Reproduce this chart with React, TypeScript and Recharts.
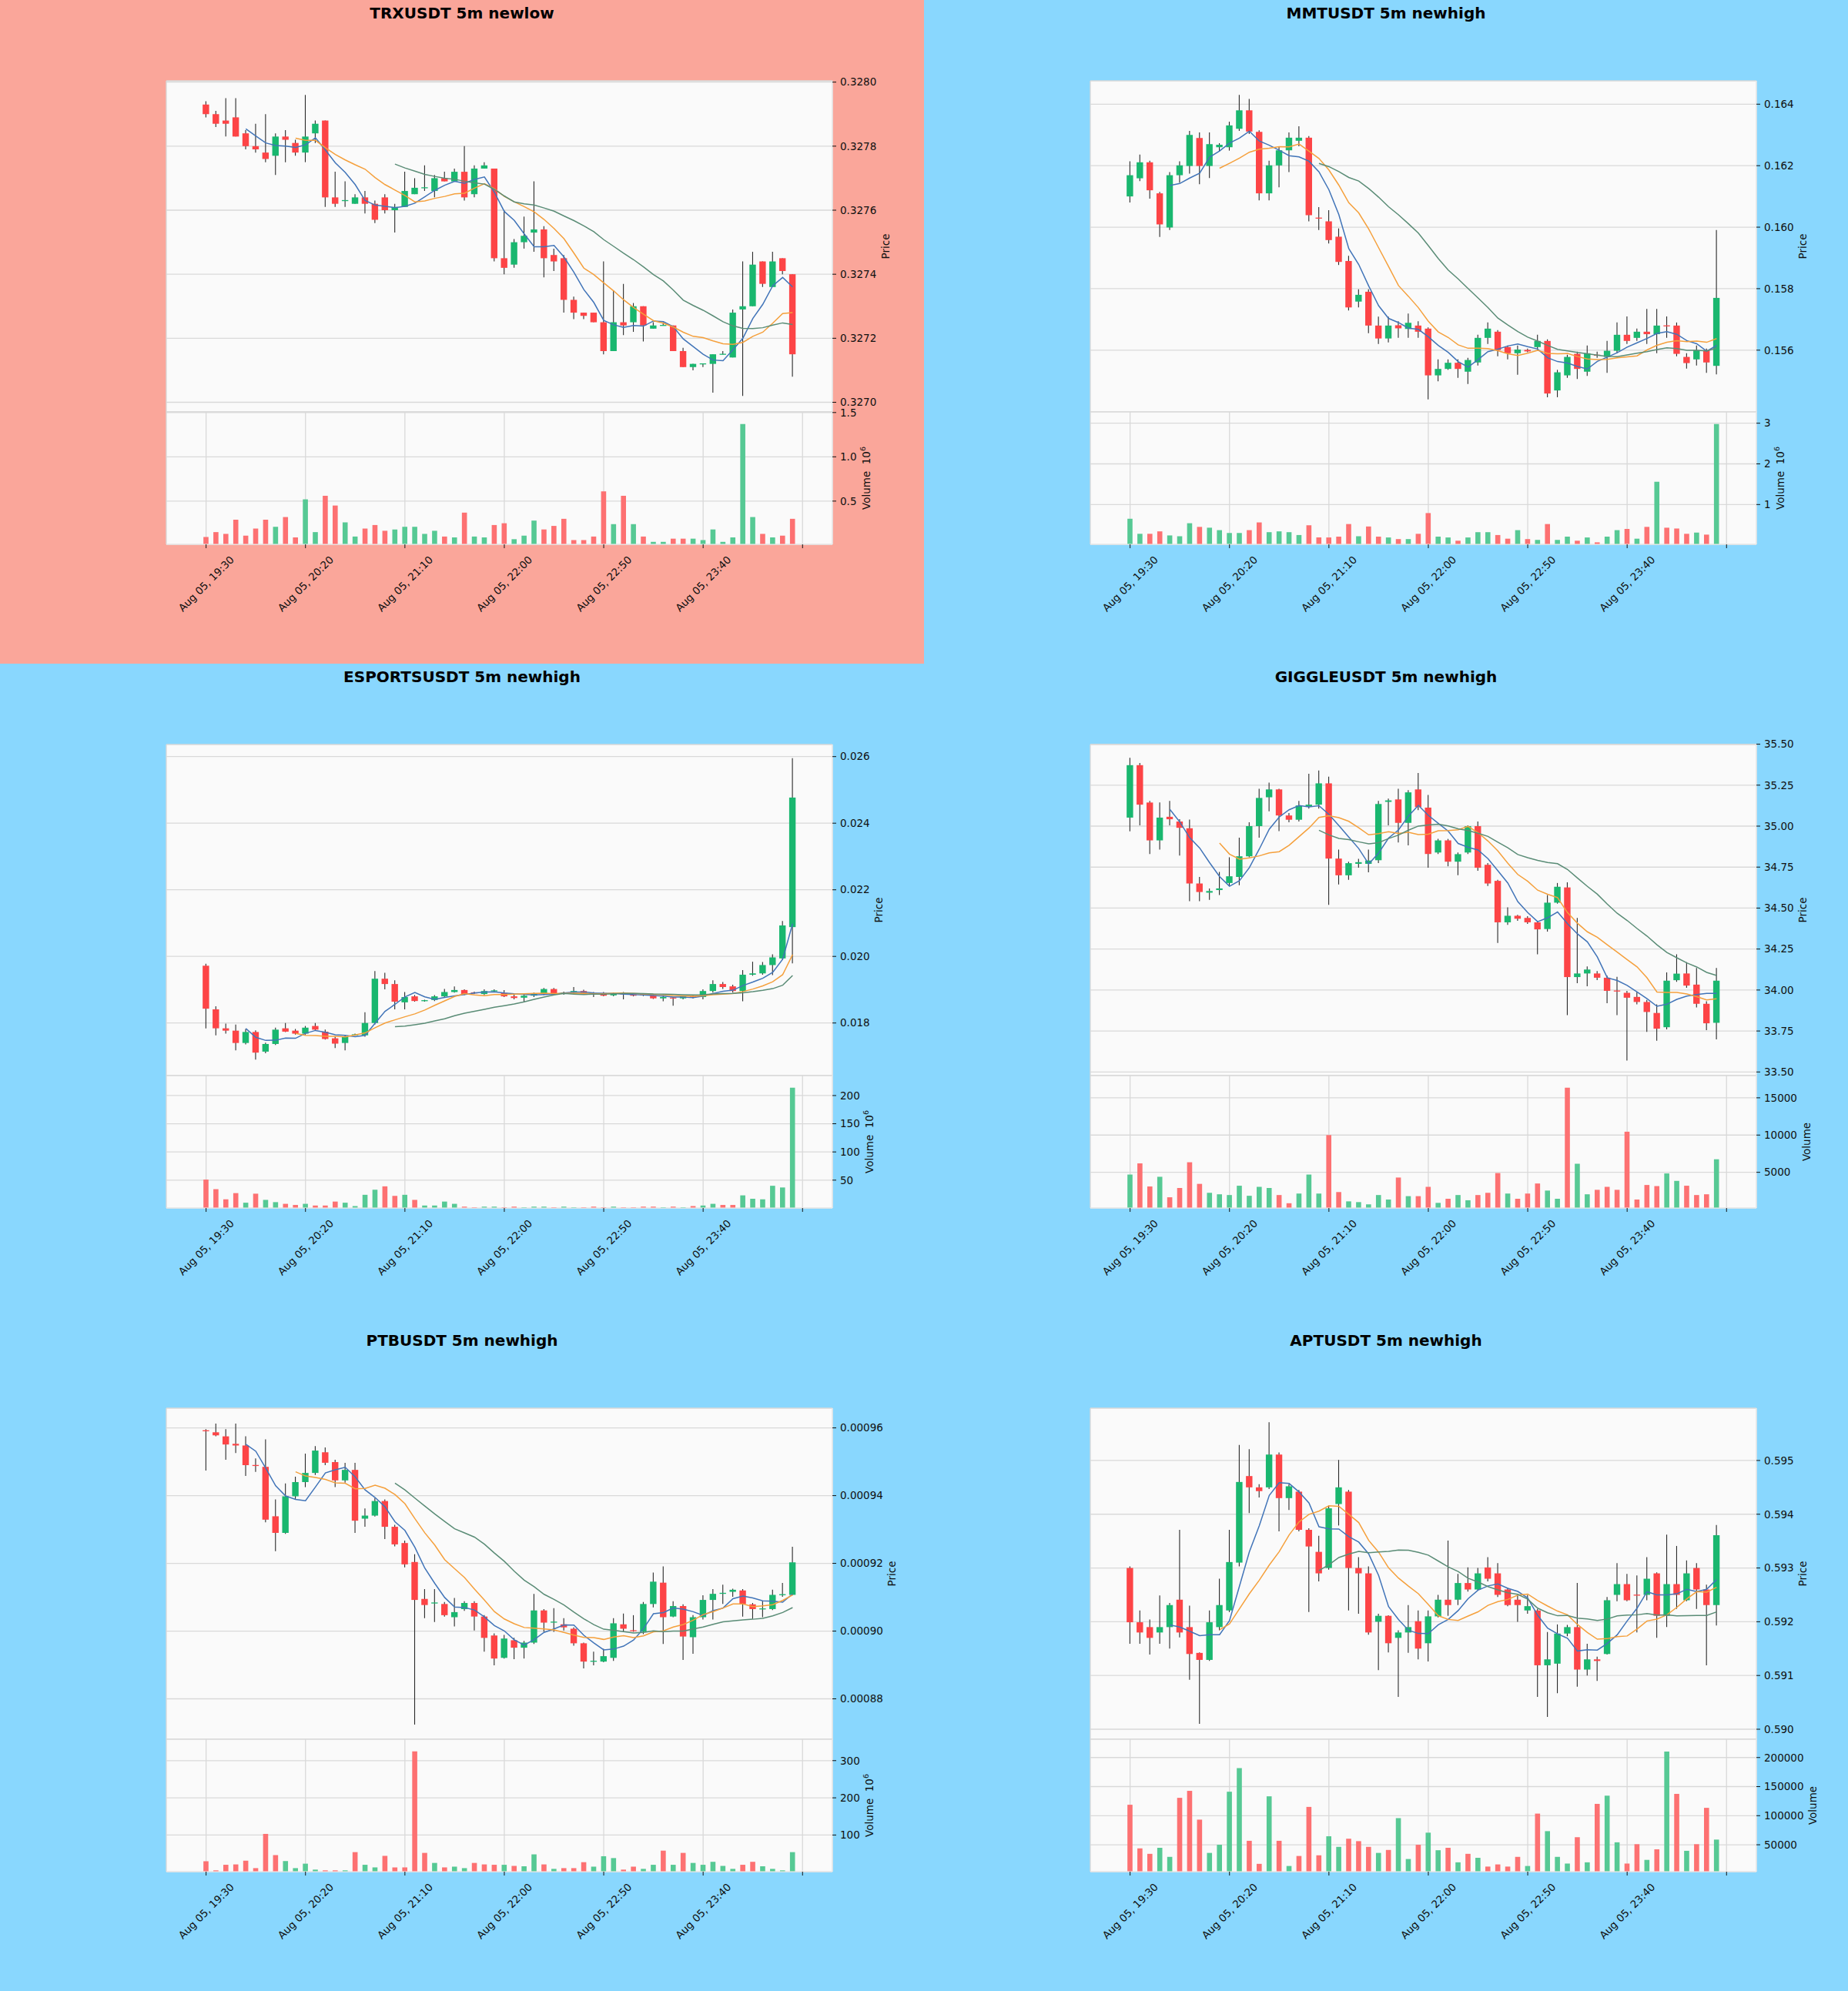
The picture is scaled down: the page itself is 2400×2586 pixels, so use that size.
import React from "react";
import { ComposedChart, Bar, Line, XAxis, YAxis, CartesianGrid, Cell } from "recharts";

const TICK_IDX = [0, 10, 20, 30, 40, 50, 60];
const TICK_LABELS = ["Aug 05, 19:30", "Aug 05, 20:20", "Aug 05, 21:10", "Aug 05, 22:00", "Aug 05, 22:50", "Aug 05, 23:40", ""];

// ---- TRXUSDT ----
const TRX_OPEN = [0.32793, 0.3279, 0.32788, 0.32789, 0.32784, 0.3278, 0.32778, 0.32777, 0.32783, 0.32781, 0.32778, 0.32784, 0.32788, 0.32764, 0.32763, 0.32762, 0.32764, 0.32762, 0.32764, 0.3276, 0.32761, 0.32765, 0.32767, 0.32766, 0.3277, 0.32769, 0.32772, 0.32765, 0.32773, 0.32773, 0.32745, 0.32743, 0.3275, 0.32753, 0.32754, 0.32746, 0.32745, 0.32732, 0.32728, 0.32728, 0.32725, 0.32716, 0.32725, 0.32725, 0.3273, 0.32723, 0.32724, 0.32724, 0.32716, 0.32711, 0.32712, 0.32712, 0.32715, 0.32714, 0.32729, 0.3273, 0.32744, 0.32736, 0.32745, 0.3274];
const TRX_HIGH = [0.32794, 0.32791, 0.32795, 0.32795, 0.32785, 0.32787, 0.3279, 0.32784, 0.32785, 0.32782, 0.32796, 0.32788, 0.32788, 0.32772, 0.32769, 0.32765, 0.32766, 0.32763, 0.32765, 0.32762, 0.32772, 0.3277, 0.32774, 0.32771, 0.32772, 0.32773, 0.3278, 0.32774, 0.32775, 0.32773, 0.3276, 0.32751, 0.32758, 0.32769, 0.32755, 0.32748, 0.32746, 0.32733, 0.32728, 0.32728, 0.32744, 0.32735, 0.32737, 0.32731, 0.3273, 0.32725, 0.32725, 0.32724, 0.32717, 0.32712, 0.32712, 0.32715, 0.32716, 0.32729, 0.32744, 0.32747, 0.32744, 0.32747, 0.32745, 0.3274];
const TRX_LOW = [0.32789, 0.32786, 0.32783, 0.32783, 0.32779, 0.32778, 0.32775, 0.32771, 0.32775, 0.32777, 0.32775, 0.32781, 0.32761, 0.32761, 0.32761, 0.32762, 0.32759, 0.32756, 0.32759, 0.32753, 0.32761, 0.32765, 0.32766, 0.32764, 0.32769, 0.32769, 0.32763, 0.32764, 0.32773, 0.32744, 0.3274, 0.32742, 0.32748, 0.32747, 0.32739, 0.32741, 0.32728, 0.32726, 0.32726, 0.32725, 0.32715, 0.32716, 0.32721, 0.32722, 0.32719, 0.32723, 0.32724, 0.32716, 0.32711, 0.3271, 0.32711, 0.32703, 0.32715, 0.32714, 0.32702, 0.3273, 0.32736, 0.32736, 0.3274, 0.32708];
const TRX_CLOSE = [0.3279, 0.32787, 0.32787, 0.32783, 0.3278, 0.32779, 0.32776, 0.32783, 0.32782, 0.32778, 0.32783, 0.32787, 0.32764, 0.32762, 0.32763, 0.32764, 0.32762, 0.32757, 0.3276, 0.32761, 0.32766, 0.32767, 0.32767, 0.3277, 0.32769, 0.32772, 0.32764, 0.32773, 0.32774, 0.32745, 0.32742, 0.3275, 0.32752, 0.32754, 0.32745, 0.32744, 0.32732, 0.32728, 0.32727, 0.32725, 0.32716, 0.32725, 0.32724, 0.3273, 0.32724, 0.32724, 0.32724, 0.32716, 0.32711, 0.32712, 0.32712, 0.32715, 0.32715, 0.32728, 0.3273, 0.32743, 0.32737, 0.32744, 0.32741, 0.32715];
const TRX_VOL = [0.095, 0.15, 0.13, 0.29, 0.11, 0.19, 0.29, 0.21, 0.32, 0.09, 0.52, 0.15, 0.56, 0.45, 0.26, 0.1, 0.19, 0.23, 0.165, 0.18, 0.21, 0.21, 0.13, 0.165, 0.1, 0.09, 0.37, 0.1, 0.09, 0.23, 0.25, 0.07, 0.11, 0.28, 0.18, 0.22, 0.3, 0.06, 0.06, 0.1, 0.61, 0.24, 0.56, 0.24, 0.1, 0.04, 0.04, 0.076, 0.076, 0.076, 0.06, 0.18, 0.04, 0.09, 1.37, 0.32, 0.13, 0.09, 0.11, 0.3];
const TRX_PRICE_TICKS = [0.327, 0.3272, 0.3274, 0.3276, 0.3278, 0.328];
const TRX_PRICE_RANGE = [0.32697, 0.328004];
const TRX_VOL_TICKS = [0.5, 1.0, 1.5];

// ---- MMTUSDT ----
const MMT_OPEN = [0.161, 0.16159, 0.16211, 0.1611, 0.15999, 0.16169, 0.16199, 0.1629, 0.16199, 0.1626, 0.1626, 0.1632, 0.1638, 0.1631, 0.1611, 0.16201, 0.1625, 0.16281, 0.16291, 0.1603, 0.16019, 0.15969, 0.1589, 0.15758, 0.1579, 0.1568, 0.15638, 0.15681, 0.15669, 0.1568, 0.1567, 0.15518, 0.15539, 0.15559, 0.1553, 0.1556, 0.1564, 0.1566, 0.1561, 0.1559, 0.15601, 0.1561, 0.1563, 0.15469, 0.15518, 0.15588, 0.1553, 0.15585, 0.15578, 0.15598, 0.1565, 0.1564, 0.1566, 0.15652, 0.1568, 0.1568, 0.15578, 0.1557, 0.156, 0.15549];
const MMT_HIGH = [0.16214, 0.16236, 0.16216, 0.16115, 0.16179, 0.16214, 0.16313, 0.16308, 0.16308, 0.16273, 0.16343, 0.1643, 0.16417, 0.16315, 0.16216, 0.16263, 0.16308, 0.16328, 0.16296, 0.16065, 0.16055, 0.15996, 0.15907, 0.15798, 0.15798, 0.15709, 0.15709, 0.15694, 0.15719, 0.15694, 0.15674, 0.1557, 0.1557, 0.1557, 0.15575, 0.1565, 0.1569, 0.15665, 0.15615, 0.15615, 0.15605, 0.1565, 0.15635, 0.15536, 0.15585, 0.15595, 0.15615, 0.15595, 0.1563, 0.1569, 0.1571, 0.1567, 0.15734, 0.15734, 0.1571, 0.1569, 0.1559, 0.15615, 0.15605, 0.15991];
const MMT_LOW = [0.1608, 0.1615, 0.16093, 0.15968, 0.15991, 0.16145, 0.16174, 0.1614, 0.1616, 0.16246, 0.16249, 0.16313, 0.16303, 0.16087, 0.16087, 0.1613, 0.16179, 0.16263, 0.16019, 0.15991, 0.15947, 0.15877, 0.15729, 0.15739, 0.15655, 0.1562, 0.15625, 0.1564, 0.1564, 0.1564, 0.1544, 0.15499, 0.15536, 0.1551, 0.1549, 0.1555, 0.1562, 0.1558, 0.1557, 0.1552, 0.15593, 0.156, 0.15447, 0.15447, 0.1551, 0.15506, 0.15516, 0.15575, 0.15526, 0.1559, 0.1562, 0.1563, 0.1562, 0.1559, 0.1564, 0.1558, 0.1554, 0.1555, 0.15526, 0.15521];
const MMT_CLOSE = [0.16169, 0.16211, 0.1612, 0.16009, 0.16169, 0.16201, 0.163, 0.16199, 0.1627, 0.16268, 0.16331, 0.1638, 0.16311, 0.1611, 0.16201, 0.1625, 0.16291, 0.16291, 0.16039, 0.16029, 0.15958, 0.15887, 0.15739, 0.1578, 0.1568, 0.15638, 0.1568, 0.15671, 0.15689, 0.1566, 0.15518, 0.15539, 0.15559, 0.15539, 0.15568, 0.1564, 0.1567, 0.156, 0.1559, 0.15602, 0.15596, 0.1563, 0.15459, 0.15528, 0.15578, 0.15539, 0.1559, 0.15582, 0.15598, 0.1565, 0.1563, 0.1566, 0.15652, 0.1568, 0.15678, 0.15588, 0.15558, 0.156, 0.1556, 0.1577];
const MMT_VOL = [0.65, 0.28, 0.28, 0.34, 0.24, 0.22, 0.54, 0.45, 0.43, 0.37, 0.3, 0.3, 0.37, 0.56, 0.32, 0.34, 0.32, 0.25, 0.49, 0.19, 0.19, 0.21, 0.52, 0.22, 0.46, 0.21, 0.19, 0.15, 0.15, 0.28, 0.79, 0.21, 0.19, 0.11, 0.19, 0.32, 0.32, 0.25, 0.16, 0.37, 0.15, 0.13, 0.52, 0.13, 0.21, 0.11, 0.19, 0.07, 0.21, 0.37, 0.4, 0.16, 0.45, 1.56, 0.43, 0.41, 0.28, 0.31, 0.26, 2.98];
const MMT_PRICE_TICKS = [0.156, 0.158, 0.16, 0.162, 0.164];
const MMT_PRICE_RANGE = [0.153992, 0.164759];
const MMT_VOL_TICKS = [1, 2, 3];

// ---- ESPORTSUSDT ----
const ESP_OPEN = [0.01972, 0.01841, 0.01784, 0.01777, 0.0174, 0.01773, 0.01714, 0.01737, 0.01784, 0.01777, 0.01768, 0.01791, 0.01774, 0.01754, 0.0174, 0.01763, 0.01763, 0.018, 0.01933, 0.01917, 0.01862, 0.0188, 0.01866, 0.01869, 0.0188, 0.01893, 0.01899, 0.01891, 0.01887, 0.01896, 0.0189, 0.0188, 0.01876, 0.01882, 0.01888, 0.01902, 0.01887, 0.01891, 0.01896, 0.0189, 0.0189, 0.01883, 0.01889, 0.01886, 0.01886, 0.01884, 0.01874, 0.01876, 0.01874, 0.0188, 0.01878, 0.01896, 0.01917, 0.0191, 0.01896, 0.01945, 0.01949, 0.01974, 0.01994, 0.02088];
const ESP_HIGH = [0.01978, 0.0185, 0.01798, 0.01795, 0.01782, 0.01778, 0.01741, 0.01786, 0.018, 0.01782, 0.01791, 0.018, 0.0178, 0.01759, 0.01763, 0.01768, 0.01832, 0.01956, 0.01951, 0.01928, 0.01893, 0.01884, 0.0187, 0.01884, 0.01902, 0.0191, 0.01901, 0.01894, 0.01901, 0.01901, 0.01899, 0.01886, 0.01886, 0.01891, 0.01905, 0.01905, 0.01894, 0.01908, 0.019, 0.01893, 0.01893, 0.01891, 0.01893, 0.01889, 0.01888, 0.01887, 0.01884, 0.01878, 0.01882, 0.01882, 0.01901, 0.01928, 0.01923, 0.01915, 0.01959, 0.01984, 0.01983, 0.02006, 0.02106, 0.02595];
const ESP_LOW = [0.01784, 0.01763, 0.01768, 0.01718, 0.01736, 0.0169, 0.01709, 0.01734, 0.01773, 0.01765, 0.01765, 0.01777, 0.0175, 0.01725, 0.01718, 0.01762, 0.01759, 0.01795, 0.01901, 0.01841, 0.01841, 0.01864, 0.01864, 0.01866, 0.01878, 0.01891, 0.01884, 0.01887, 0.01884, 0.01893, 0.01878, 0.01871, 0.01862, 0.01878, 0.01884, 0.01884, 0.01885, 0.01889, 0.01887, 0.01878, 0.0188, 0.0188, 0.01871, 0.0188, 0.01881, 0.01872, 0.01865, 0.01852, 0.01871, 0.01874, 0.01871, 0.01891, 0.01902, 0.01891, 0.01865, 0.01942, 0.01945, 0.01944, 0.0199, 0.01979];
const ESP_CLOSE = [0.01843, 0.01784, 0.01777, 0.0174, 0.01773, 0.01711, 0.01737, 0.0178, 0.01774, 0.01768, 0.01786, 0.0178, 0.01752, 0.01738, 0.01759, 0.01766, 0.018, 0.01933, 0.01917, 0.01864, 0.01878, 0.01866, 0.01868, 0.0188, 0.01893, 0.01899, 0.01887, 0.0189, 0.01896, 0.01897, 0.0188, 0.01875, 0.01882, 0.01888, 0.01902, 0.01887, 0.01891, 0.01896, 0.0189, 0.01887, 0.01882, 0.01889, 0.01886, 0.01882, 0.01883, 0.01874, 0.01878, 0.01874, 0.0188, 0.01876, 0.01896, 0.01917, 0.01908, 0.01896, 0.01945, 0.01949, 0.01974, 0.01997, 0.02093, 0.02477];
const ESP_VOL = [51, 34, 16, 27, 10, 26, 15, 11, 8, 6, 8, 5, 5, 12, 10, 4, 24, 33, 39, 22, 24, 15, 5, 5, 12, 8, 3, 2, 3, 3, 2, 3, 2, 3, 3, 2, 3, 2, 2, 3, 2, 3, 2, 2, 3, 3, 2, 3, 2, 4, 5, 8, 6, 6, 23, 17, 16, 40, 37, 214];
const ESP_PRICE_TICKS = [0.018, 0.02, 0.022, 0.024, 0.026];
const ESP_PRICE_RANGE = [0.016421, 0.026363];
const ESP_VOL_TICKS = [50, 100, 150, 200];

// ---- GIGGLEUSDT ----
const GIG_OPEN = [35.052, 35.372, 35.144, 34.913, 35.057, 35.028, 34.987, 34.65, 34.594, 34.61, 34.653, 34.69, 34.816, 35.0, 35.176, 35.224, 35.065, 35.039, 35.12, 35.131, 35.261, 34.802, 34.7, 34.77, 34.77, 34.792, 35.148, 35.163, 35.02, 35.224, 35.113, 34.839, 34.913, 34.783, 34.839, 35.0, 34.764, 34.666, 34.413, 34.453, 34.44, 34.413, 34.372, 34.533, 34.626, 34.079, 34.101, 34.101, 34.075, 33.995, 33.983, 33.958, 33.927, 33.86, 33.773, 34.06, 34.101, 34.033, 33.916, 33.8];
const GIG_HIGH = [35.417, 35.385, 35.154, 35.144, 35.154, 35.042, 35.04, 34.69, 34.62, 34.72, 34.81, 34.93, 35.024, 35.228, 35.265, 35.228, 35.08, 35.154, 35.32, 35.339, 35.302, 34.857, 34.783, 34.8, 34.857, 35.154, 35.168, 35.228, 35.22, 35.324, 35.19, 34.922, 34.922, 34.839, 35.005, 35.028, 34.774, 34.672, 34.505, 34.459, 34.45, 34.422, 34.58, 34.653, 34.657, 34.44, 34.144, 34.116, 34.088, 34.08, 33.995, 33.986, 33.94, 33.912, 34.107, 34.218, 34.17, 34.135, 33.931, 34.135];
const GIG_LOW = [34.968, 35.005, 34.83, 34.857, 35.005, 34.82, 34.542, 34.542, 34.55, 34.58, 34.635, 34.64, 34.81, 34.93, 35.09, 34.97, 35.024, 35.028, 35.107, 35.107, 34.52, 34.644, 34.672, 34.746, 34.718, 34.774, 35.005, 34.9, 34.883, 35.098, 34.746, 34.83, 34.755, 34.7, 34.83, 34.727, 34.635, 34.287, 34.398, 34.422, 34.403, 34.218, 34.357, 34.527, 33.847, 34.042, 34.023, 34.06, 33.92, 33.847, 33.57, 33.912, 33.745, 33.69, 33.76, 34.05, 34.014, 33.894, 33.755, 33.699];
const GIG_CLOSE = [35.372, 35.131, 34.913, 35.052, 35.042, 34.99, 34.65, 34.598, 34.604, 34.62, 34.694, 34.816, 35.0, 35.172, 35.224, 35.065, 35.039, 35.126, 35.131, 35.261, 34.802, 34.7, 34.774, 34.78, 34.79, 35.135, 35.157, 35.02, 35.206, 35.116, 34.83, 34.913, 34.783, 34.829, 35.0, 34.746, 34.65, 34.413, 34.453, 34.435, 34.413, 34.37, 34.533, 34.63, 34.079, 34.101, 34.125, 34.075, 33.995, 33.993, 33.953, 33.927, 33.866, 33.764, 34.057, 34.1, 34.027, 33.916, 33.797, 34.057];
const GIG_VOL = [4700, 6200, 3100, 4400, 1650, 2900, 6350, 3450, 2250, 2050, 1950, 3200, 1850, 3050, 2900, 1950, 850, 2150, 4700, 2150, 10000, 2350, 1100, 1000, 700, 1950, 1350, 4300, 1800, 1800, 3050, 900, 1450, 1950, 1250, 1950, 2250, 4900, 2150, 1450, 2150, 3500, 2550, 1450, 16350, 6150, 2050, 2650, 3050, 2650, 10450, 1350, 3300, 3150, 4850, 3850, 3200, 1950, 2050, 6750];
const GIG_PRICE_TICKS = [33.5, 33.75, 34.0, 34.25, 34.5, 34.75, 35.0, 35.25, 35.5];
const GIG_PRICE_RANGE = [33.478, 35.498];
const GIG_VOL_TICKS = [5000, 10000, 15000];

// ---- PTBUSDT ----
const PTB_OPEN = [959.2e-6, 958.7e-6, 957.5e-6, 955.3e-6, 954.8e-6, 949.0e-6, 948.5e-6, 933.9e-6, 929.0e-6, 939.8e-6, 944.0e-6, 946.7e-6, 952.8e-6, 949.9e-6, 944.5e-6, 947.6e-6, 933.2e-6, 934.1e-6, 938.4e-6, 930.8e-6, 926.0e-6, 920.4e-6, 909.5e-6, 908.3e-6, 908.0e-6, 904.1e-6, 906.5e-6, 908.3e-6, 904.3e-6, 898.7e-6, 892.1e-6, 897.3e-6, 895.1e-6, 896.6e-6, 906.1e-6, 902.5e-6, 902.0e-6, 900.7e-6, 896.4e-6, 891.0e-6, 891.0e-6, 892.1e-6, 902.0e-6, 900.2e-6, 899.8e-6, 908.0e-6, 914.3e-6, 904.3e-6, 907.4e-6, 898.2e-6, 904.1e-6, 909.2e-6, 911.0e-6, 911.6e-6, 912.0e-6, 907.9e-6, 906.5e-6, 906.5e-6, 910.7e-6, 910.7e-6];
const PTB_HIGH = [959.6e-6, 961.3e-6, 959.6e-6, 961.3e-6, 957.5e-6, 951.0e-6, 956.6e-6, 938.9e-6, 943.6e-6, 945.6e-6, 952.4e-6, 954.6e-6, 954.2e-6, 950.6e-6, 949.7e-6, 949.7e-6, 936.2e-6, 939.3e-6, 938.9e-6, 931.4e-6, 926.7e-6, 922.7e-6, 912.4e-6, 912.4e-6, 908.6e-6, 909.8e-6, 908.8e-6, 908.8e-6, 904.7e-6, 899.3e-6, 898.9e-6, 898.0e-6, 897.1e-6, 911.0e-6, 906.5e-6, 906.8e-6, 903.8e-6, 901.1e-6, 896.6e-6, 893.9e-6, 894.8e-6, 903.8e-6, 905.2e-6, 904.7e-6, 908.6e-6, 917.3e-6, 919.1e-6, 908.8e-6, 907.9e-6, 904.7e-6, 910.6e-6, 912.4e-6, 913.7e-6, 912.5e-6, 912.4e-6, 908.3e-6, 908.8e-6, 912.2e-6, 914.2e-6, 924.9e-6];
const PTB_LOW = [947.4e-6, 957.5e-6, 950.6e-6, 952.6e-6, 945.8e-6, 947.0e-6, 932.1e-6, 923.6e-6, 928.7e-6, 938.9e-6, 942.5e-6, 946.1e-6, 949.0e-6, 942.5e-6, 943.8e-6, 929.0e-6, 930.8e-6, 933.8e-6, 927.2e-6, 925.0e-6, 918.8e-6, 872.4e-6, 903.8e-6, 902.7e-6, 904.3e-6, 901.4e-6, 906.0e-6, 900.2e-6, 893.9e-6, 889.9e-6, 891.9e-6, 891.7e-6, 891.9e-6, 896.2e-6, 899.8e-6, 899.8e-6, 900.2e-6, 895.7e-6, 889.0e-6, 889.9e-6, 890.8e-6, 891.2e-6, 899.8e-6, 899.8e-6, 899.1e-6, 907.0e-6, 896.2e-6, 904.1e-6, 891.5e-6, 893.3e-6, 903.4e-6, 903.4e-6, 908.0e-6, 910.1e-6, 904.3e-6, 903.6e-6, 904.1e-6, 906.2e-6, 910.1e-6, 910.6e-6];
const PTB_CLOSE = [959.1e-6, 957.8e-6, 955.1e-6, 954.8e-6, 949.0e-6, 948.8e-6, 932.9e-6, 929.0e-6, 939.8e-6, 944.0e-6, 946.7e-6, 953.3e-6, 949.7e-6, 944.5e-6, 947.6e-6, 932.6e-6, 934.1e-6, 938.4e-6, 930.8e-6, 925.6e-6, 919.7e-6, 909.2e-6, 907.7e-6, 908.3e-6, 904.7e-6, 905.6e-6, 908.3e-6, 904.3e-6, 898.0e-6, 891.9e-6, 897.8e-6, 895.1e-6, 896.6e-6, 906.1e-6, 902.5e-6, 902.8e-6, 901.1e-6, 896.4e-6, 891.0e-6, 891.2e-6, 892.6e-6, 902.3e-6, 900.7e-6, 900.0e-6, 908.0e-6, 914.6e-6, 904.1e-6, 907.4e-6, 898.4e-6, 904.1e-6, 909.2e-6, 911.0e-6, 911.3e-6, 912.2e-6, 908.0e-6, 906.5e-6, 906.6e-6, 910.7e-6, 910.8e-6, 920.3e-6];
const PTB_VOL = [29.5, 5, 20, 21, 31, 11, 103, 46, 30, 11, 23, 7, 5, 5, 5, 54, 20, 13, 44, 13, 13, 325, 52, 25, 13, 15, 11, 25, 21, 20, 20, 17, 16, 48, 21, 9, 11, 11, 27, 15, 43, 38, 7, 15, 9, 20, 58, 20, 52, 25, 20, 28, 17, 9, 20, 28, 16, 9, 5, 54];
const PTB_PRICE_TICKS = [0.00088, 0.0009, 0.00092, 0.00094, 0.00096];
const PTB_PRICE_RANGE = [0.00086807, 0.00096582];
const PTB_VOL_TICKS = [100, 200, 300];

// ---- APTUSDT ----
const APT_OPEN = [0.593, 0.59199, 0.5919, 0.5918, 0.5919, 0.59241, 0.5919, 0.59142, 0.59129, 0.5919, 0.59221, 0.5931, 0.59471, 0.5945, 0.5945, 0.59511, 0.5943, 0.59442, 0.59371, 0.5933, 0.593, 0.59419, 0.59442, 0.593, 0.5929, 0.592, 0.59211, 0.5917, 0.5918, 0.59201, 0.5916, 0.5921, 0.59241, 0.59241, 0.59272, 0.5926, 0.59301, 0.5929, 0.5926, 0.59241, 0.59221, 0.59221, 0.59119, 0.59122, 0.59178, 0.5919, 0.59111, 0.5913, 0.5914, 0.5925, 0.5927, 0.5925, 0.5925, 0.5929, 0.59211, 0.5927, 0.5924, 0.593, 0.5926, 0.59231];
const APT_HIGH = [0.59303, 0.59221, 0.59204, 0.59249, 0.59235, 0.59371, 0.5923, 0.59143, 0.59221, 0.5928, 0.59371, 0.59529, 0.59521, 0.59456, 0.59571, 0.59515, 0.59456, 0.59445, 0.59374, 0.5936, 0.59416, 0.59501, 0.59445, 0.5932, 0.59303, 0.59215, 0.59212, 0.59184, 0.59231, 0.59221, 0.59221, 0.5925, 0.59351, 0.59289, 0.59301, 0.593, 0.5932, 0.59309, 0.59263, 0.5925, 0.5925, 0.59224, 0.59181, 0.59195, 0.59194, 0.59272, 0.59159, 0.59135, 0.59246, 0.59309, 0.59289, 0.59286, 0.5932, 0.59292, 0.59362, 0.59341, 0.59314, 0.59309, 0.59269, 0.5938];
const APT_LOW = [0.59159, 0.59159, 0.59139, 0.59159, 0.5915, 0.59171, 0.59092, 0.5901, 0.59127, 0.59184, 0.59218, 0.59303, 0.59402, 0.59431, 0.59447, 0.59368, 0.59408, 0.59368, 0.59218, 0.59275, 0.59297, 0.59379, 0.59221, 0.59215, 0.59176, 0.5911, 0.59143, 0.5906, 0.59142, 0.5913, 0.59126, 0.59208, 0.59211, 0.59231, 0.59256, 0.59258, 0.59275, 0.59246, 0.59229, 0.592, 0.59215, 0.5906, 0.59023, 0.59067, 0.59173, 0.59079, 0.591, 0.5909, 0.59139, 0.59238, 0.59238, 0.5918, 0.5924, 0.5917, 0.5919, 0.59224, 0.59238, 0.59224, 0.59119, 0.59193];
const APT_CLOSE = [0.59199, 0.5918, 0.5917, 0.5919, 0.59231, 0.5918, 0.5914, 0.59129, 0.59199, 0.59231, 0.59311, 0.5946, 0.5945, 0.59443, 0.59511, 0.5943, 0.59452, 0.59371, 0.5934, 0.5929, 0.59411, 0.5945, 0.593, 0.5929, 0.5918, 0.59211, 0.5916, 0.5918, 0.5919, 0.5915, 0.5921, 0.59241, 0.59231, 0.59272, 0.5926, 0.5929, 0.5928, 0.5925, 0.59231, 0.59231, 0.59229, 0.59119, 0.5913, 0.59178, 0.5919, 0.59111, 0.5913, 0.59127, 0.5924, 0.5927, 0.5924, 0.59249, 0.5928, 0.59211, 0.5927, 0.5925, 0.5929, 0.5926, 0.59231, 0.59361];
const APT_VOL = [118800, 43800, 34400, 44800, 29200, 130700, 142700, 93200, 36000, 50000, 141200, 181800, 56800, 17200, 133300, 56800, 13500, 30700, 115100, 31800, 64600, 46400, 60400, 56200, 46400, 36000, 41100, 95800, 25500, 50000, 70800, 40600, 44800, 19800, 34400, 27600, 12500, 16200, 12500, 29200, 13500, 103600, 73400, 29200, 17700, 63000, 19800, 120300, 134400, 54200, 17700, 51000, 24000, 42200, 210400, 137500, 39600, 51000, 113500, 58900];
const APT_PRICE_TICKS = [0.59, 0.591, 0.592, 0.593, 0.594, 0.595];
const APT_PRICE_RANGE = [0.589814, 0.595973];
const APT_VOL_TICKS = [50000, 100000, 150000, 200000];

// colours (yahoo-like style)
const FIG_BG = "#89d7fe";
const SALMON = "#faa69a";
const UP = "#19b76f";
const DOWN = "#fd4446";
const VUP = "#56c994";
const VDOWN = "#fd7172";
const WICK = "#2a2a2a";
const MA_COLORS = ["#4174b8", "#f5a03c", "#5a8c76"];
const TXT = "#101010";

// layout inside one panel
const PANEL_W = 1200;
const PANEL_H = 862;
const PLOT_L = 216;
const PLOT_R = 1081;
const PRICE_T = 105;
const SPLIT = 535;
const VOL_B = 707;
const AXIS_W = PANEL_W - PLOT_R;
const PAD = 20; // room so edge tick labels are not clipped

const PANELS = [
  { title: "TRXUSDT 5m newlow", bg: SALMON, o: TRX_OPEN, h: TRX_HIGH, l: TRX_LOW, c: TRX_CLOSE, v: TRX_VOL, pr: TRX_PRICE_RANGE, pt: TRX_PRICE_TICKS, pd: 4, vt: TRX_VOL_TICKS, vd: 1, exp: true },
  { title: "MMTUSDT 5m newhigh", bg: FIG_BG, o: MMT_OPEN, h: MMT_HIGH, l: MMT_LOW, c: MMT_CLOSE, v: MMT_VOL, pr: MMT_PRICE_RANGE, pt: MMT_PRICE_TICKS, pd: 3, vt: MMT_VOL_TICKS, vd: 0, exp: true },
  { title: "ESPORTSUSDT 5m newhigh", bg: FIG_BG, o: ESP_OPEN, h: ESP_HIGH, l: ESP_LOW, c: ESP_CLOSE, v: ESP_VOL, pr: ESP_PRICE_RANGE, pt: ESP_PRICE_TICKS, pd: 3, vt: ESP_VOL_TICKS, vd: 0, exp: true },
  { title: "GIGGLEUSDT 5m newhigh", bg: FIG_BG, o: GIG_OPEN, h: GIG_HIGH, l: GIG_LOW, c: GIG_CLOSE, v: GIG_VOL, pr: GIG_PRICE_RANGE, pt: GIG_PRICE_TICKS, pd: 2, vt: GIG_VOL_TICKS, vd: 0, exp: false },
  { title: "PTBUSDT 5m newhigh", bg: FIG_BG, o: PTB_OPEN, h: PTB_HIGH, l: PTB_LOW, c: PTB_CLOSE, v: PTB_VOL, pr: PTB_PRICE_RANGE, pt: PTB_PRICE_TICKS, pd: 5, vt: PTB_VOL_TICKS, vd: 0, exp: true },
  { title: "APTUSDT 5m newhigh", bg: FIG_BG, o: APT_OPEN, h: APT_HIGH, l: APT_LOW, c: APT_CLOSE, v: APT_VOL, pr: APT_PRICE_RANGE, pt: APT_PRICE_TICKS, pd: 3, vt: APT_VOL_TICKS, vd: 0, exp: false },
];

function sma(vals: number[], n: number) {
  return vals.map((_, i) => {
    if (i < n - 1) return null;
    let s = 0;
    for (let k = i - n + 1; k <= i; k++) s += vals[k];
    return s / n;
  });
}

// rough DejaVu width of a numeric tick label
const labelWidth = (s: string) => s.split("").reduce((w, ch) => w + (ch === "." ? 4.2 : 8.4), 0);

function Candle(props: any) {
  const { x, y, width, height, payload } = props;
  if (x == null || payload == null) return null;
  const top = Math.min(y, y + height);
  const bot = Math.max(y, y + height);
  const [lo, hi] = payload.wick;
  const span = hi - lo || 1;
  const px = (v: number) => top + ((hi - v) / span) * (bot - top);
  const yo = px(payload.o);
  const yc = px(payload.c);
  const bh = Math.max(Math.abs(yo - yc), 1.3);
  const bt = (yo + yc) / 2 - bh / 2;
  const cx = x + width / 2;
  const col = payload.c >= payload.o ? UP : DOWN;
  return (
    <g>
      <line x1={cx} x2={cx} y1={top} y2={bot} stroke={WICK} strokeWidth={1.1} />
      <rect x={x} y={bt} width={width} height={bh} fill={col} />
    </g>
  );
}

function DateTick(props: any) {
  const { x, y, payload } = props;
  const idx = TICK_IDX.indexOf(payload.value);
  const label = idx >= 0 ? TICK_LABELS[idx] : "";
  if (!label) return null;
  const cy = y + 44;
  return (
    <text x={x} y={cy} transform={`rotate(-45, ${x}, ${cy})`} textAnchor="middle" dominantBaseline="central" fontSize={13.5} fill={TXT}>
      {label}
    </text>
  );
}

function Panel({ p, left, top }: { p: any; left: number; top: number }) {
  const ma5 = sma(p.c, 5);
  const ma10 = sma(p.c, 10);
  const ma20 = sma(p.c, 20);
  const rows = p.c.map((c: number, i: number) => ({
    i,
    o: p.o[i],
    c,
    wick: [Math.min(p.l[i], p.o[i], c), Math.max(p.h[i], p.o[i], c)],
    v: p.v[i],
    ma5: ma5[i],
    ma10: ma10[i],
    ma20: ma20[i],
  }));
  const volDomain = [0.3 * Math.min(...p.v), 1.1 * Math.max(...p.v)];
  const pFmt = (v: number) => v.toFixed(p.pd);
  const vFmt = (v: number) => v.toFixed(p.vd);
  const priceLabelX = PLOT_R + 10 + Math.max(...p.pt.map((t: number) => labelWidth(pFmt(t)))) + 12.5;
  const volLabelX = PLOT_R + 10 + Math.max(...p.vt.map((t: number) => labelWidth(vFmt(t)))) + 12.5;
  const tickStyle = { fontSize: 13.5, fill: TXT };

  return (
    <div style={{ position: "absolute", left, top, width: PANEL_W, height: PANEL_H, background: p.bg }}>
      <div style={{ position: "absolute", left: 0, top: 0 }}>
        <ComposedChart width={PANEL_W} height={SPLIT + PAD} data={rows} margin={{ top: PRICE_T, right: 0, bottom: PAD, left: PLOT_L }}>
          <CartesianGrid stroke="#d9d9d9" strokeWidth={1.3} fill="#fafafa" fillOpacity={1} />
          <XAxis dataKey="i" type="number" domain={[-4, 63]} ticks={TICK_IDX} height={0} tick={false} tickLine={false} axisLine={false} allowDataOverflow />
          <YAxis
            orientation="right"
            width={AXIS_W}
            domain={p.pr}
            ticks={p.pt}
            interval={0}
            allowDataOverflow
            tickFormatter={pFmt}
            tick={tickStyle}
            tickSize={5}
            tickMargin={5}
            tickLine={{ stroke: TXT }}
            axisLine={{ stroke: "#f0f0f0" }}
          />
          <Bar dataKey="wick" barSize={8.4} shape={<Candle />} isAnimationActive={false} />
          <Line dataKey="ma5" type="linear" stroke={MA_COLORS[0]} strokeWidth={1.5} dot={false} isAnimationActive={false} />
          <Line dataKey="ma10" type="linear" stroke={MA_COLORS[1]} strokeWidth={1.5} dot={false} isAnimationActive={false} />
          <Line dataKey="ma20" type="linear" stroke={MA_COLORS[2]} strokeWidth={1.5} dot={false} isAnimationActive={false} />
        </ComposedChart>
      </div>
      <div style={{ position: "absolute", left: 0, top: SPLIT - PAD }}>
        <ComposedChart width={PANEL_W} height={VOL_B - SPLIT + PAD + 150} data={rows} margin={{ top: PAD, right: 0, bottom: 0, left: PLOT_L }}>
          <CartesianGrid stroke="#d9d9d9" strokeWidth={1.3} fill="#fafafa" fillOpacity={1} />
          <XAxis
            dataKey="i"
            type="number"
            domain={[-4, 63]}
            ticks={TICK_IDX}
            interval={0}
            height={150}
            allowDataOverflow
            tick={<DateTick />}
            tickSize={5}
            tickLine={{ stroke: TXT }}
            axisLine={{ stroke: "#f0f0f0" }}
          />
          <YAxis
            orientation="right"
            width={AXIS_W}
            domain={volDomain}
            ticks={p.vt}
            interval={0}
            allowDataOverflow
            tickFormatter={vFmt}
            tick={tickStyle}
            tickSize={5}
            tickMargin={5}
            tickLine={{ stroke: TXT }}
            axisLine={{ stroke: "#f0f0f0" }}
          />
          <Bar dataKey="v" barSize={6.6} isAnimationActive={false}>
            {rows.map((r: any) => (
              <Cell key={r.i} fill={r.c >= r.o ? VUP : VDOWN} />
            ))}
          </Bar>
        </ComposedChart>
      </div>
      <svg width={PANEL_W} height={PANEL_H} style={{ position: "absolute", left: 0, top: 0, pointerEvents: "none" }}>
        <text x={PANEL_W / 2} y={24} textAnchor="middle" fontSize={20} fontWeight="bold" fill="#000">
          {p.title}
        </text>
        <text transform={`translate(${priceLabelX}, ${(PRICE_T + SPLIT) / 2}) rotate(-90)`} textAnchor="middle" dominantBaseline="central" fontSize={13.5} fill={TXT}>
          Price
        </text>
        <text transform={`translate(${volLabelX}, ${(SPLIT + VOL_B) / 2}) rotate(-90)`} textAnchor="middle" dominantBaseline="central" fontSize={13.5} fill={TXT}>
          {p.exp ? "Volume\u00a0\u00a0" : "Volume"}
          {p.exp ? "10" : null}
          {p.exp ? (
            <tspan dy={-5} fontSize={9.5}>
              6
            </tspan>
          ) : null}
        </text>
      </svg>
    </div>
  );
}

export default function App() {
  return (
    <div style={{ position: "relative", width: 2400, height: 2586, background: FIG_BG, fontFamily: "'DejaVu Sans', sans-serif", overflow: "hidden" }}>
      <style>{"body{margin:0}"}</style>
      {PANELS.map((p, k) => (
        <Panel key={p.title} p={p} left={(k % 2) * PANEL_W} top={Math.floor(k / 2) * PANEL_H} />
      ))}
    </div>
  );
}
